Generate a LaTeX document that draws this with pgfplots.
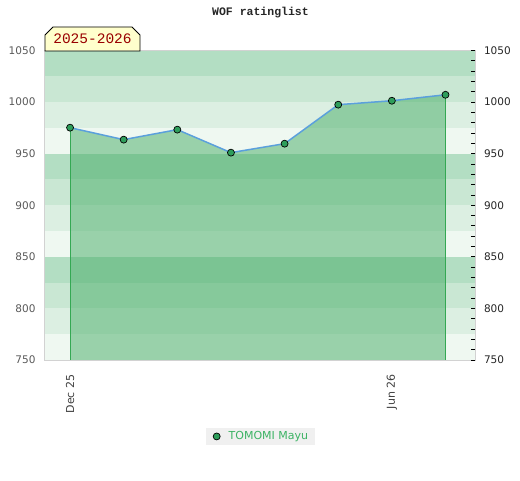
\documentclass[border=0pt]{standalone}
\usepackage{pgfplots}
\pgfplotsset{compat=1.18}
\usepackage{fontspec}
\setmainfont{DejaVu Sans}
\newfontfamily\monofont{Liberation Mono}
\usetikzlibrary{shapes.misc}
\definecolor{bandA}{RGB}{179,222,195}
\definecolor{bandB}{RGB}{201,231,211}
\definecolor{bandC}{RGB}{220,239,226}
\definecolor{bandD}{RGB}{239,248,241}
\definecolor{areafill}{RGB}{69,172,101}
\definecolor{vline}{RGB}{52,168,83}
\definecolor{serline}{RGB}{91,160,220}
\definecolor{markfill}{RGB}{46,158,91}
\definecolor{legbg}{RGB}{240,240,240}
\definecolor{legtext}{RGB}{60,179,100}
\definecolor{boxfill}{RGB}{255,255,204}
\definecolor{boxtext}{RGB}{153,0,0}
\definecolor{bordergray}{RGB}{210,210,210}
\begin{document}
\begin{tikzpicture}[x=1pt,y=1pt]
\useasboundingbox (-45,-120) rectangle (475,360);
\node[font=\monofont\bfseries\fontsize{11.5}{12}\selectfont, text=black!85] at (215.5,347) {WOF ratinglist};
\begin{axis}[
  scale only axis, width=430pt, height=309.5pt,
  xmin=-0.467, xmax=7.55, ymin=750, ymax=1050,
  axis on top,
  axis line style={draw=bordergray, line width=1pt},
  ytick={750,800,...,1050},
  xtick={0,6}, xticklabels={Dec 25, Jun 26},
  major tick length=0pt,
  tick style={draw=none},
  /pgf/number format/assume math mode=true,
  /pgf/number format/1000 sep={},
  yticklabel style={font=\fontsize{10.5}{12}\selectfont, text=black!65, anchor=east, xshift=-6pt},
  xticklabel style={font=\fontsize{11}{12}\selectfont, text=black!75, yshift=-11pt, rotate=90, anchor=east},
  legend style={at={(0.501,-0.247)}, anchor=center, fill=legbg, draw=none,
     font=\fontsize{11}{12}\selectfont, text=legtext, inner xsep=5pt, inner ysep=2pt},
  legend image code/.code={\path[draw=none,fill=none] (0pt,-3pt) rectangle (16pt,3pt);
     \draw[#1] plot coordinates {(6pt,0pt)};},
]
% background bands
\addplot[draw=none, fill=bandA, forget plot] coordinates {(-1,1025) (8,1025) (8,1050) (-1,1050)} -- cycle;
\addplot[draw=none, fill=bandB, forget plot] coordinates {(-1,1000) (8,1000) (8,1025) (-1,1025)} -- cycle;
\addplot[draw=none, fill=bandC, forget plot] coordinates {(-1,975) (8,975) (8,1000) (-1,1000)} -- cycle;
\addplot[draw=none, fill=bandD, forget plot] coordinates {(-1,950) (8,950) (8,975) (-1,975)} -- cycle;
\addplot[draw=none, fill=bandA, forget plot] coordinates {(-1,925) (8,925) (8,950) (-1,950)} -- cycle;
\addplot[draw=none, fill=bandB, forget plot] coordinates {(-1,900) (8,900) (8,925) (-1,925)} -- cycle;
\addplot[draw=none, fill=bandC, forget plot] coordinates {(-1,875) (8,875) (8,900) (-1,900)} -- cycle;
\addplot[draw=none, fill=bandD, forget plot] coordinates {(-1,850) (8,850) (8,875) (-1,875)} -- cycle;
\addplot[draw=none, fill=bandA, forget plot] coordinates {(-1,825) (8,825) (8,850) (-1,850)} -- cycle;
\addplot[draw=none, fill=bandB, forget plot] coordinates {(-1,800) (8,800) (8,825) (-1,825)} -- cycle;
\addplot[draw=none, fill=bandC, forget plot] coordinates {(-1,775) (8,775) (8,800) (-1,800)} -- cycle;
\addplot[draw=none, fill=bandD, forget plot] coordinates {(-1,750) (8,750) (8,775) (-1,775)} -- cycle;
% area
\addplot[draw=none, fill=areafill, fill opacity=0.5, forget plot] coordinates {
 (0,750) (0,975.2) (1,963.6) (2,973.3) (3,951.0) (4,959.7) (5,997.5) (6,1001.3) (7,1007.1) (7,750)} -- cycle;
\addplot[vline, line width=1pt, forget plot] coordinates {(0,750) (0,975.2)};
\addplot[vline, line width=1pt, forget plot] coordinates {(7,750) (7,1007.1)};
\addplot[serline, line width=1.5pt, forget plot] coordinates {
 (0,975.2) (1,963.6) (2,973.3) (3,951.0) (4,959.7) (5,997.5) (6,1001.3) (7,1007.1)};
\addplot[only marks, mark=*, mark size=3.5pt, mark options={fill=markfill, draw=black, line width=0.7pt}] coordinates {
 (0,975.2) (1,963.6) (2,973.3) (3,951.0) (4,959.7) (5,997.5) (6,1001.3) (7,1007.1)};
\addlegendentry{TOMOMI Mayu}
\end{axis}
\begin{axis}[
  scale only axis, width=430pt, height=309.5pt,
  xmin=-0.467, xmax=7.55, ymin=750, ymax=1050,
  axis line style={draw=none},
  xtick=\empty,
  ytick pos=right,
  ytick={750,800,...,1050},
  minor ytick={760,770,...,1040},
  tick align=inside,
  major tick length=4pt, minor tick length=4pt,
  tick style={draw=black, line width=0.8pt},
  /pgf/number format/assume math mode=true,
  /pgf/number format/1000 sep={},
  yticklabel style={font=\fontsize{10.5}{12}\selectfont, text=black!85, anchor=west, xshift=5.5pt},
]
\addplot[draw=none] coordinates {(0,800)};
\end{axis}
\node[chamfered rectangle, chamfered rectangle corners={north west, north east}, chamfered rectangle xsep=4pt, chamfered rectangle ysep=4pt,
  draw=black, line width=0.8pt, fill=boxfill, minimum width=95pt, minimum height=24pt, inner sep=0pt,
  font=\monofont\fontsize{14.5}{15}\selectfont, text=boxtext] at (47.5,321) {2025-2026};
\end{tikzpicture}
\end{document}
